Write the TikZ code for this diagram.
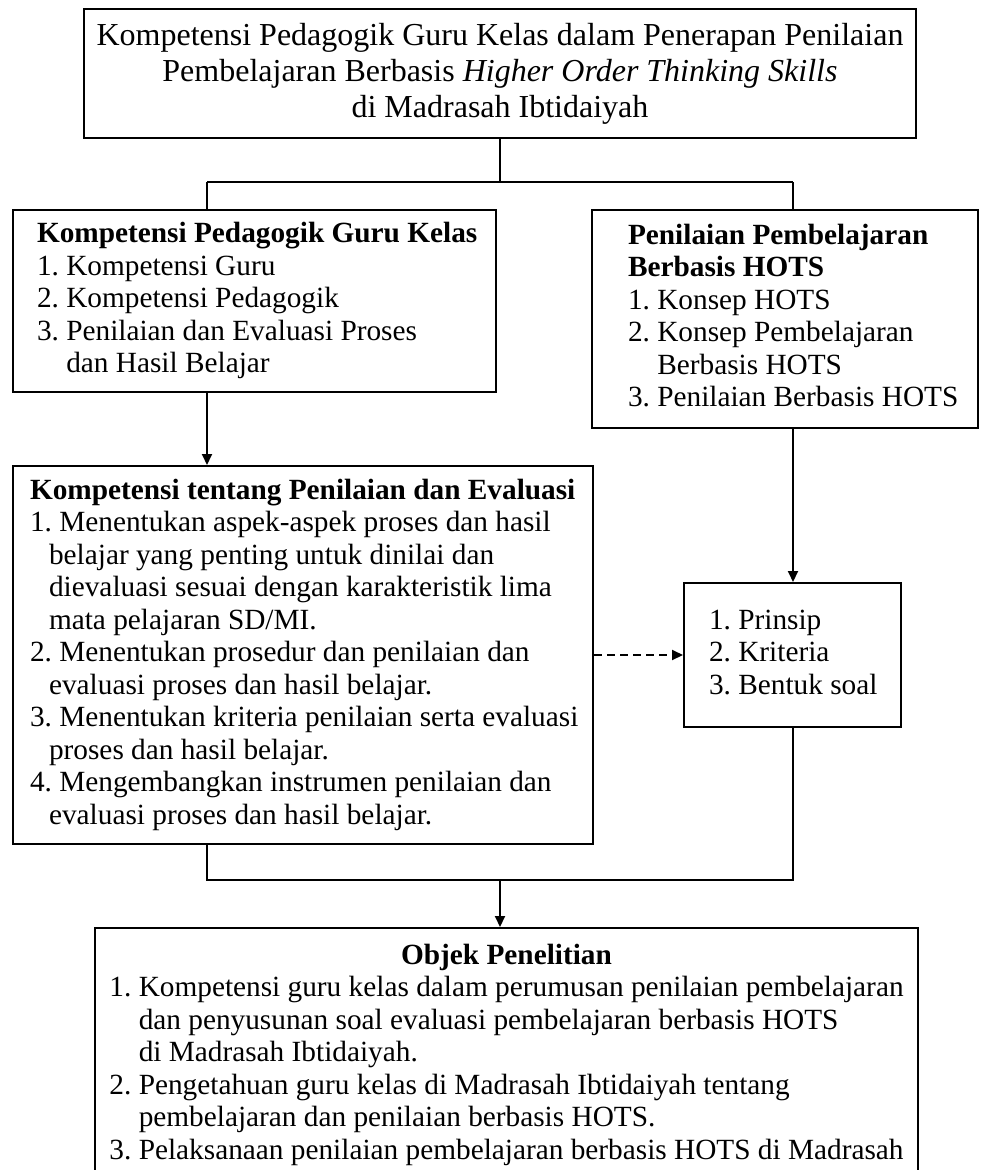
\documentclass[tikz,border=0pt]{standalone}
\usepackage{fontspec}
\setmainfont{Liberation Serif}
\usepackage{tikz}
\usetikzlibrary{arrows.meta}
\frenchspacing
\newcommand{\lbox}[2]{\makebox[#1][l]{\begin{tabular}{@{}l@{}}#2\end{tabular}}}
\newcommand{\hangi}{\hspace*{1em}}
\newcommand{\hangs}{\hspace*{0.65em}}
\begin{document}
\begin{tikzpicture}[x=1pt, y=-1pt, main/.style={draw, line width=2pt, inner ysep=0pt, font=\fontsize{29.3}{32.5}\selectfont}, ln/.style={line width=2pt}, ar/.style={line width=2pt, -{Triangle[length=11pt,width=10pt]}}, dar/.style={ar, dash pattern=on 8pt off 5pt}]
          \useasboundingbox (0,0) rectangle (983,1170);
          \node[main, minimum width=832pt, minimum height=129pt, align=center, font=\fontsize{32}{36}\selectfont] (1) at (500,73.5) {Kompetensi Pedagogik Guru Kelas dalam Penerapan Penilaian\\ Pembelajaran Berbasis \textit{Higher Order Thinking Skills}\\ di Madrasah Ibtidaiyah};
          \node[main, minimum height=182pt, inner xsep=24pt] (2) at (254.5,301) {\lbox{435pt}{\textbf{Kompetensi Pedagogik Guru Kelas}\\ 1. Kompetensi Guru\\ 2. Kompetensi Pedagogik\\ 3. Penilaian dan Evaluasi Proses\\ \hangi dan Hasil Belajar}};
          \node[main, minimum height=218pt, inner xsep=36pt] (3) at (785,319) {\lbox{314pt}{\textbf{Penilaian Pembelajaran}\\ \textbf{Berbasis HOTS}\\ 1. Konsep HOTS\\ 2. Konsep Pembelajaran\\ \hangi Berbasis HOTS\\ 3. Penilaian Berbasis HOTS}};
          \node[main, minimum height=378pt, inner xsep=17pt] (4) at (303,655) {\lbox{546pt}{\textbf{Kompetensi tentang Penilaian dan Evaluasi}\\ 1. Menentukan aspek-aspek proses dan hasil\\ \hangs belajar yang penting untuk dinilai dan\\ \hangs dievaluasi sesuai dengan karakteristik lima\\ \hangs mata pelajaran SD/MI.\\ 2. Menentukan prosedur dan penilaian dan\\ \hangs evaluasi proses dan hasil belajar.\\ 3. Menentukan kriteria penilaian serta evaluasi\\ \hangs proses dan hasil belajar.\\ 4. Mengembangkan instrumen penilaian dan\\ \hangs evaluasi proses dan hasil belajar.}};
          \node[main, minimum height=144pt, inner xsep=25pt] (5) at (792.5,655) {\lbox{167pt}{1. Prinsip\\ 2. Kriteria\\ 3. Bentuk soal}};
          \node[main, minimum width=823pt, minimum height=254pt] (6) at (506.5,1055) {\begin{tabular}{@{}l@{}}\multicolumn{1}{@{}c@{}}{\textbf{Objek Penelitian}}\\ 1. Kompetensi guru kelas dalam perumusan penilaian pembelajaran\\ \hangi dan penyusunan soal evaluasi pembelajaran berbasis HOTS\\ \hangi di Madrasah Ibtidaiyah.\\ 2. Pengetahuan guru kelas di Madrasah Ibtidaiyah tentang\\ \hangi pembelajaran dan penilaian berbasis HOTS.\\ 3. Pelaksanaan penilaian pembelajaran berbasis HOTS di Madrasah\end{tabular}};

          \coordinate (a) at (500,182);
          \coordinate (b) at (207,182);
          \coordinate (c) at (793,182);
          \coordinate (d) at (207,880);
          \coordinate (e) at (793,880);
          \coordinate (f) at (500,880);

          \draw[ln] (1.south) -- (a);
          \draw[ln] (b) -- (c);
          \draw[ln] (b) -- (b |- 2.north);
          \draw[ln] (c) -- (c |- 3.north);
          \draw[ar] (b |- 2.south) -- (b |- 4.north);
          \draw[ar] (c |- 3.south) -- (c |- 5.north);
          \draw[dar] (4.east) -- (5.west);
          \draw[ln] (b |- 4.south) -- (d) -- (e) -- (e |- 5.south);
          \draw[ar] (f) -- (f |- 6.north);
        \end{tikzpicture}
\end{document}
